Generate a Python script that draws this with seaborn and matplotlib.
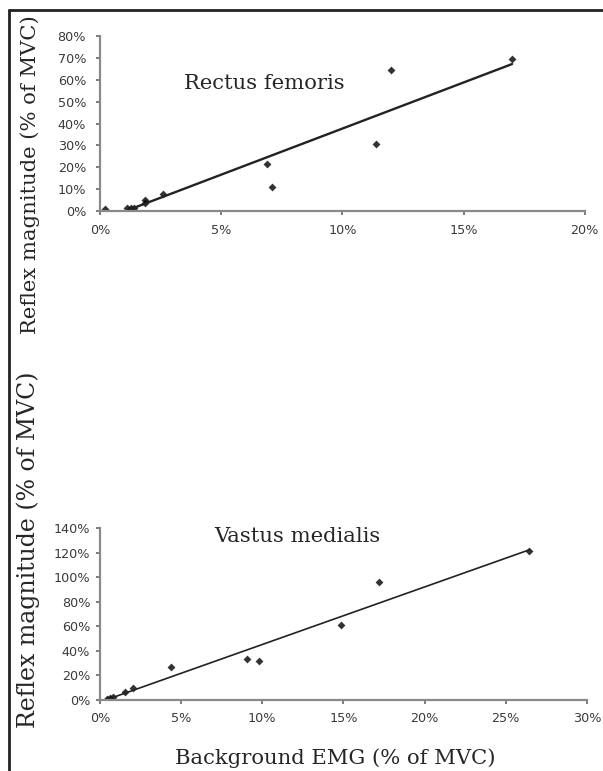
import matplotlib
matplotlib.use("Agg")
import matplotlib.pyplot as plt
import seaborn as sns
from matplotlib.ticker import PercentFormatter, MultipleLocator
from matplotlib.lines import Line2D

# Rectus femoris: background EMG vs reflex magnitude (% of MVC)
rf_emg = [0.2, 1.1, 1.3, 1.4, 1.85, 1.85, 2.6, 6.9, 7.1, 11.4, 12.0, 17.0]
rf_reflex = [1.0, 1.5, 1.5, 1.5, 5.0, 3.5, 7.8, 21.5, 11.2, 30.7, 64.5, 69.5]

# Vastus medialis
vm_emg = [0.45, 0.6, 0.8, 1.55, 2.05, 4.4, 9.05, 9.8, 14.85, 17.2, 26.45]
vm_reflex = [0.5, 1.5, 2.8, 6.5, 10.0, 26.5, 33.0, 31.7, 60.7, 95.9, 121.0]

ylab = "Reflex magnitude (% of MVC)"
xlab = "Background EMG (% of MVC)"

sns.set_style("ticks")
plt.rcParams["font.family"] = ["DejaVu Sans"]

fig = plt.figure(figsize=(6.03, 7.71), dpi=100)
ax1 = fig.add_axes([0.1658, 0.7263, 0.804, 0.227])
ax2 = fig.add_axes([0.1658, 0.0921, 0.8076, 0.2231])

serif = {"family": "DejaVu Serif", "size": 15.2}
serif_big = {"family": "DejaVu Serif", "size": 17}


def draw(ax, x, y, xmax, ymax, xstep, ystep, lw):
    sns.regplot(x=x, y=y, ax=ax, ci=None, marker="D", color="black",
                scatter_kws={"s": 16, "linewidths": 0},
                line_kws={"lw": lw, "color": "#222222"})
    ax.set_xlim(0, xmax)
    ax.set_ylim(0, ymax)
    ax.xaxis.set_major_locator(MultipleLocator(xstep))
    ax.yaxis.set_major_locator(MultipleLocator(ystep))
    ax.xaxis.set_major_formatter(PercentFormatter(decimals=0))
    ax.yaxis.set_major_formatter(PercentFormatter(decimals=0))
    sns.despine(ax=ax)
    for s in ["left", "bottom"]:
        ax.spines[s].set_color("#8a8a8a")
        ax.spines[s].set_linewidth(1.6)
    ax.tick_params(length=3, width=1.2, color="#666666",
                   labelsize=9.2, labelcolor="#3a3a3a")
    ax.tick_params(axis="x", pad=6)
    ax.set_xlabel("")
    ax.set_ylabel("")


draw(ax1, rf_emg, rf_reflex, 20, 80, 5, 10, 1.7)
ax1.tick_params(axis="y", pad=7)
draw(ax2, vm_emg, vm_reflex, 30, 140, 5, 20, 1.2)
ax2.tick_params(axis="y", pad=4)

ax1.text(0.338, 0.731, "Rectus femoris", transform=ax1.transAxes,
         ha="center", va="center", fontdict=serif)
ax2.text(0.405, 0.948, "Vastus medialis", transform=ax2.transAxes,
         ha="center", va="center", fontdict=serif)

ax1.set_ylabel(ylab, fontdict=serif)
ax1.yaxis.set_label_coords(-0.124, 0.206)
ax2.set_ylabel(ylab, fontdict=serif_big)
ax2.yaxis.set_label_coords(-0.124, 0.872)
ax2.set_xlabel(xlab, fontdict=serif)
ax2.xaxis.set_label_coords(0.4826, -0.279)

# frame of the cropped page (left and top only)
fig.add_artist(Line2D([9 / 603, 9 / 603], [0, 1 - 10 / 771],
                      color="#222222", lw=2))
fig.add_artist(Line2D([9 / 603, 1], [1 - 10 / 771, 1 - 10 / 771],
                      color="#222222", lw=2))

fig.savefig("out.png", dpi=100)
